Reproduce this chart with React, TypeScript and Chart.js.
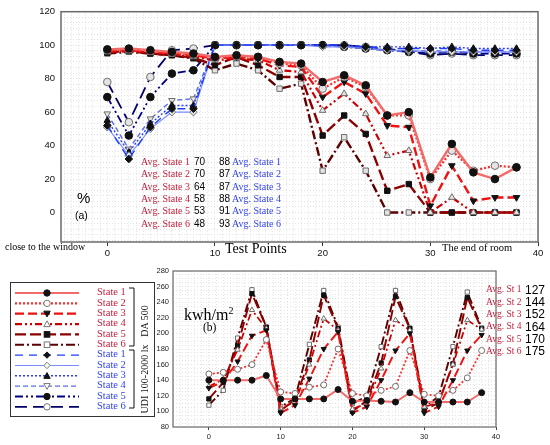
import React, { useEffect, useRef } from "react";
import { Chart, registerables } from "chart.js";

Chart.register(...registerables);

// ---------- DATA ----------
const TEST_POINTS = [0, 2, 4, 6, 8, 10, 12, 14, 16, 18, 20, 22, 24, 26, 28, 30, 32, 34, 36, 38];

// (a) DA 500 (%)
const DA_STATE_1 = [97.5, 98, 97, 96, 95, 93, 94, 93, 90, 89, 78, 82, 76, 58, 60, 21, 41, 24, 20, 27];
const DA_STATE_2 = [97, 97.5, 96.5, 95.5, 94.5, 92.5, 93.5, 93, 89, 88, 74, 81, 75, 58, 58, 20, 37, 25, 28, 27];
const DA_STATE_3 = [96.5, 97, 96, 95, 94, 92, 93, 92, 88, 87, 69, 78, 71, 52, 51, 4, 28, 7, 9, 9];
const DA_STATE_4 = [96, 96.5, 95.5, 94.5, 93, 91, 92, 91, 85, 84, 61, 71, 59, 34, 37, 0, 9, 0, 0, 0];
const DA_STATE_5 = [95.5, 96.5, 95, 94, 92.5, 88, 93, 88, 81, 81, 46, 58, 47, 13, 17, 0, 0, 0, 0, 0];
const DA_STATE_6 = [95, 96, 95, 94, 92, 85, 89, 85, 74, 77, 25, 45, 25, 0, 0, 0, 0, 0, 0, 0];

// (a) UDI 100-2000 lx (%)
const UDI_STATE_1 = [52, 32, 51, 62, 62, 100, 100, 100, 100, 100, 100, 100, 99, 98, 98, 98, 98, 97, 97, 97];
const UDI_STATE_2 = [51, 34, 50, 60, 60, 100, 100, 100, 100, 100, 99, 99, 98, 97, 97, 96, 96, 96, 96, 96];
const UDI_STATE_3 = [55, 36, 53, 64, 64, 100, 100, 100, 100, 100, 100, 100, 99, 99, 99, 98, 99, 98, 98, 98];
const UDI_STATE_4 = [59, 38, 56, 67, 68, 100, 100, 100, 100, 100, 100, 99, 98, 97, 96, 97, 96, 96, 96, 96];
const UDI_STATE_5 = [69, 46, 69, 83, 85, 100, 100, 100, 100, 100, 100, 99, 98, 97, 96, 95, 96, 95, 95, 95];
const UDI_STATE_6 = [78, 54, 81, 97, 98, 100, 100, 100, 100, 100, 100, 100, 99, 98, 96, 94, 95, 94, 94, 94];

// (b) energy kWh/m2
const EN_STATE_1 = [140, 140, 140, 140, 146, 116, 116, 116, 116, 128, 113, 114, 113, 112, 124, 112, 112, 112, 112, 124];
const EN_STATE_2 = [148, 150, 154, 160, 192, 125, 123, 131, 134, 180, 123, 120, 127, 132, 178, 122, 120, 127, 143, 178];
const EN_STATE_3 = [130, 138, 164, 197, 204, 98, 108, 142, 180, 202, 98, 106, 140, 178, 200, 98, 106, 140, 178, 198];
const EN_STATE_4 = [132, 141, 179, 230, 206, 104, 112, 160, 219, 204, 103, 110, 155, 217, 204, 106, 111, 160, 217, 205];
const EN_STATE_5 = [116, 137, 184, 251, 208, 101, 115, 166, 249, 206, 100, 114, 162, 247, 206, 102, 111, 161, 246, 206];
const EN_STATE_6 = [108, 127, 194, 256, 208, 106, 117, 186, 255, 208, 110, 119, 183, 255, 207, 106, 119, 183, 253, 207];

const STATE_LABELS = ["State 1", "State 2", "State 3", "State 4", "State 5", "State 6"];
const AVG_DA = [70, 70, 64, 58, 53, 48];
const AVG_UDI = [88, 87, 87, 88, 91, 93];
const AVG_ENERGY = [127, 144, 152, 164, 170, 175];

const DA_SERIES = [DA_STATE_1, DA_STATE_2, DA_STATE_3, DA_STATE_4, DA_STATE_5, DA_STATE_6];
const UDI_SERIES = [UDI_STATE_1, UDI_STATE_2, UDI_STATE_3, UDI_STATE_4, UDI_STATE_5, UDI_STATE_6];
const EN_SERIES = [EN_STATE_1, EN_STATE_2, EN_STATE_3, EN_STATE_4, EN_STATE_5, EN_STATE_6];

// ---------- STYLES ----------
const SANS = "'Liberation Sans', Arial, sans-serif";
const SERIF = "'Liberation Serif', 'Times New Roman', serif";
const RED_TEXT = "#c41e3a";
const BLUE_TEXT = "#3344ee";
const GRID = "#d9d9d9";

type Style = { color: string; dash: number[]; width: number; marker: string; filled: boolean; rot: number };

const DA_STYLES: Style[] = [
  { color: "#f26b6b", dash: [], width: 2.4, marker: "circle", filled: true, rot: 0 },
  { color: "#ff2a2a", dash: [2, 2], width: 2.2, marker: "circle", filled: false, rot: 0 },
  { color: "#ee1111", dash: [9, 4], width: 2.4, marker: "triangle", filled: true, rot: 180 },
  { color: "#c80000", dash: [7, 3, 2, 3, 2, 3], width: 2.2, marker: "triangle", filled: false, rot: 0 },
  { color: "#8b0000", dash: [11, 4], width: 2.4, marker: "rect", filled: true, rot: 0 },
  { color: "#5c0000", dash: [9, 3, 2, 3], width: 2.4, marker: "rect", filled: false, rot: 0 },
];

const UDI_STYLES: Style[] = [
  { color: "#1f3fff", dash: [8, 6], width: 1.4, marker: "rectRot", filled: true, rot: 0 },
  { color: "#7a8cff", dash: [], width: 1.1, marker: "rectRot", filled: false, rot: 0 },
  { color: "#2a3cff", dash: [2, 2], width: 1.4, marker: "triangle", filled: true, rot: 0 },
  { color: "#5a6ee8", dash: [5, 3], width: 1.4, marker: "triangle", filled: false, rot: 180 },
  { color: "#000080", dash: [8, 3, 2, 3, 2, 3], width: 1.8, marker: "circle", filled: true, rot: 0 },
  { color: "#000066", dash: [12, 6], width: 1.8, marker: "circle", filled: false, rot: 0 },
];

const isMajor = (v: number, step: number) => Math.abs(v / step - Math.round(v / step)) < 1e-6;

function toPoints(values: number[]) {
  return TEST_POINTS.map((x, i) => ({ x, y: values[i] }));
}

function makeDataset(label: string, values: number[], st: Style, radius: number, openFill: string, widthScale = 1) {
  return {
    label,
    data: toPoints(values),
    borderColor: st.color,
    borderWidth: st.width * widthScale,
    borderDash: st.dash,
    pointStyle: st.marker,
    pointRotation: st.rot,
    pointRadius: radius,
    pointBackgroundColor: st.filled ? "#111" : openFill,
    pointBorderColor: st.filled ? "#111" : "#6e6e6e",
    pointBorderWidth: 1,
    tension: 0,
    fill: false,
  };
}

const framePlugin = {
  id: "frame",
  beforeDatasetsDraw(chart: any, _args: any, opts: any) {
    const { ctx, chartArea: a } = chart;
    ctx.save();
    ctx.strokeStyle = opts.color || "#666";
    ctx.lineWidth = opts.width || 1;
    ctx.setLineDash([]);
    ctx.strokeRect(a.left, a.top, a.right - a.left, a.bottom - a.top);
    ctx.restore();
  },
};

function buildTicks(min: number, max: number, stepNum: number, stepDen: number) {
  const t: { value: number }[] = [];
  const kMin = Math.ceil((min * stepDen) / stepNum - 1e-9);
  const kMax = Math.floor((max * stepDen) / stepNum + 1e-9);
  for (let k = kMin; k <= kMax; k++) t.push({ value: (k * stepNum) / stepDen });
  return t;
}

function TopChart() {
  const ref = useRef<HTMLCanvasElement>(null);
  useEffect(() => {
    const xMin = -4.3, xMax = 40, yMin = -17.6, yMax = 120;
    const datasets: any[] = [];
    DA_SERIES.forEach((v, i) => datasets.push(makeDataset("DA " + STATE_LABELS[i], v, DA_STYLES[i], 3.8, "#e4e4e4")));
    UDI_SERIES.forEach((v, i) => datasets.push(makeDataset("UDI " + STATE_LABELS[i], v, UDI_STYLES[i], 3.8, "#e4e4e4")));
    const chart = new Chart(ref.current as HTMLCanvasElement, {
      type: "line",
      data: { datasets },
      plugins: [framePlugin],
      options: {
        animation: false,
        responsive: false,
        layout: { padding: { left: 0, right: 12, top: 8, bottom: 0 } },
        plugins: { legend: { display: false }, tooltip: { enabled: false }, frame: { color: "#6a6a6a", width: 1.5 } } as any,
        scales: {
          x: {
            type: "linear",
            min: xMin,
            max: xMax,
            afterBuildTicks: (axis: any) => { axis.ticks = buildTicks(xMin, xMax, 2, 3); },
            afterFit: (axis: any) => { axis.height = 20; },
            ticks: {
              autoSkip: false, maxRotation: 0, padding: 2, color: "#111",
              font: { family: SANS, size: 9.5 },
              callback: (v: any) => (isMajor(Number(v), 10) ? String(Math.round(Number(v))) : ""),
            },
            grid: {
              color: GRID, lineWidth: 0.8, tickLength: 4, tickWidth: 1,
              tickColor: (c: any) => (c.tick && isMajor(c.tick.value, 10) ? "#333" : "rgba(0,0,0,0)"),
            },
            border: { display: false, dash: [1, 2] },
          },
          y: {
            type: "linear",
            min: yMin,
            max: yMax,
            afterBuildTicks: (axis: any) => { axis.ticks = buildTicks(yMin, yMax, 10, 3); },
            afterFit: (axis: any) => { axis.width = 61; },
            ticks: {
              autoSkip: false, padding: 6, color: "#111",
              font: { family: SANS, size: 9.5 },
              callback: (v: any) => (isMajor(Number(v), 20) ? String(Math.round(Number(v))) : ""),
            },
            grid: { color: GRID, lineWidth: 0.8, drawTicks: false },
            border: { display: false, dash: [1, 2] },
          },
        },
      } as any,
    });
    return () => chart.destroy();
  }, []);
  return <canvas ref={ref} width={550} height={262} style={{ position: "absolute", left: 0, top: 0, width: 550, height: 262 }} />;
}

function BottomChart() {
  const ref = useRef<HTMLCanvasElement>(null);
  useEffect(() => {
    const xMin = -5, xMax = 40, yMin = 80, yMax = 280;
    const datasets: any[] = EN_SERIES.map((v, i) =>
      makeDataset("Energy " + STATE_LABELS[i], v, DA_STYLES[i], 3, "#ffffff", 0.8)
    );
    const chart = new Chart(ref.current as HTMLCanvasElement, {
      type: "line",
      data: { datasets },
      plugins: [framePlugin],
      options: {
        animation: false,
        responsive: false,
        layout: { padding: { left: 0, right: 54, top: 9, bottom: 0 } },
        plugins: { legend: { display: false }, tooltip: { enabled: false }, frame: { color: "#6a6a6a", width: 1.2 } } as any,
        scales: {
          x: {
            type: "linear",
            min: xMin,
            max: xMax,
            afterBuildTicks: (axis: any) => { axis.ticks = buildTicks(xMin, xMax, 1, 1); },
            afterFit: (axis: any) => { axis.height = 18; },
            ticks: {
              autoSkip: false, maxRotation: 0, padding: 2, color: "#222",
              font: { family: SANS, size: 7.5 },
              callback: (v: any) => (isMajor(Number(v), 10) ? String(Math.round(Number(v))) : ""),
            },
            grid: {
              color: GRID, lineWidth: 0.7, tickLength: 3, tickWidth: 1,
              tickColor: (c: any) => (c.tick && isMajor(c.tick.value, 10) ? "#444" : "rgba(0,0,0,0)"),
            },
            border: { display: false, dash: [1, 2] },
          },
          y: {
            type: "linear",
            min: yMin,
            max: yMax,
            afterBuildTicks: (axis: any) => { axis.ticks = buildTicks(yMin, yMax, 5, 1); },
            afterFit: (axis: any) => { axis.width = 33; },
            ticks: {
              autoSkip: false, padding: 4, color: "#222",
              font: { family: SANS, size: 7.5 },
              callback: (v: any) => (isMajor(Number(v), 20) ? String(Math.round(Number(v))) : ""),
            },
            grid: { color: GRID, lineWidth: 0.7, drawTicks: false },
            border: { display: false, dash: [1, 2] },
          },
        },
      } as any,
    });
    return () => chart.destroy();
  }, []);
  return <canvas ref={ref} width={410} height={183} style={{ position: "absolute", left: 140, top: 262, width: 410, height: 183 }} />;
}

function Txt(props: { x: number; y: number; size: number; family: string; color?: string; children: any; style?: any }) {
  const { x, y, size, family, color, children, style } = props;
  return (
    <div
      style={{
        position: "absolute", left: x, top: y - size * 0.6, fontSize: size, fontFamily: family,
        color: color || "#000", lineHeight: `${size * 1.2}px`, whiteSpace: "nowrap", ...style,
      }}
    >
      {children}
    </div>
  );
}

function LegendMarker({ st, cx, cy }: { st: Style; cx: number; cy: number }) {
  const fill = st.filled ? "#111" : "#fff";
  const stroke = st.filled ? "#111" : "#777";
  const r = 3.2;
  if (st.marker === "circle") return <circle cx={cx} cy={cy} r={r} fill={fill} stroke={stroke} strokeWidth={1} />;
  if (st.marker === "rect") return <rect x={cx - 2.8} y={cy - 2.8} width={5.6} height={5.6} fill={fill} stroke={stroke} strokeWidth={1} />;
  if (st.marker === "rectRot")
    return <polygon points={`${cx},${cy - r} ${cx + r},${cy} ${cx},${cy + r} ${cx - r},${cy}`} fill={fill} stroke={stroke} strokeWidth={1} />;
  const up = st.rot === 0;
  const pts = up
    ? `${cx},${cy - r} ${cx + r},${cy + r * 0.8} ${cx - r},${cy + r * 0.8}`
    : `${cx},${cy + r} ${cx + r},${cy - r * 0.8} ${cx - r},${cy - r * 0.8}`;
  return <polygon points={pts} fill={fill} stroke={stroke} strokeWidth={1} />;
}

function Legend() {
  const rows = [...DA_STYLES.map((s, i) => ({ st: s, label: STATE_LABELS[i], color: RED_TEXT })),
    ...UDI_STYLES.map((s, i) => ({ st: s, label: STATE_LABELS[i], color: BLUE_TEXT }))];
  const rowY = (i: number) => 11 + i * 10.35;
  return (
    <div style={{ position: "absolute", left: 10, top: 282, width: 145, height: 135, border: "1.5px solid #333", boxSizing: "border-box", background: "#fff" }}>
      <svg width={145} height={135} style={{ position: "absolute", left: -1.5, top: -1.5 }}>
        {rows.map((r, i) => (
          <g key={i}>
            <line x1={5} x2={69} y1={rowY(i)} y2={rowY(i)} stroke={r.st.color} strokeWidth={Math.min(r.st.width, 2.2)} strokeDasharray={r.st.dash.length ? r.st.dash.join(" ") : undefined} />
            <LegendMarker st={r.st} cx={37} cy={rowY(i)} />
          </g>
        ))}
        <polyline points="119,6 124,6 124,64 119,64" fill="none" stroke="#111" strokeWidth={1} />
        <polyline points="119,68 124,68 124,126 119,126" fill="none" stroke="#111" strokeWidth={1} />
      </svg>
      {rows.map((r, i) => (
        <Txt key={i} x={86} y={rowY(i) - 1.5} size={10.5} family={SERIF} color={r.color}>{r.label}</Txt>
      ))}
      <div style={{ position: "absolute", left: 134 - 40, top: 38 - 6, width: 80, textAlign: "center", fontFamily: SERIF, fontSize: 10, lineHeight: "12px", transform: "rotate(-90deg)", color: "#111" }}>DA 500</div>
      <div style={{ position: "absolute", left: 134 - 40, top: 96 - 6, width: 80, textAlign: "center", fontFamily: SERIF, fontSize: 10, lineHeight: "12px", transform: "rotate(-90deg)", color: "#111" }}>UDI 100-2000 lx</div>
    </div>
  );
}

export default function App() {
  return (
    <div style={{ position: "absolute", left: 0, top: 0, width: 550, height: 445, background: "#fff", overflow: "hidden" }}>
      <TopChart />
      <BottomChart />
      {/* top chart annotations */}
      <Txt x={77} y={198} size={15} family={SANS}>%</Txt>
      <Txt x={75} y={215} size={10.5} family={SANS}>(a)</Txt>
      {STATE_LABELS.map((s, i) => (
        <React.Fragment key={i}>
          <Txt x={141} y={162 + 12.3 * i} size={10} family={SERIF} color={RED_TEXT}>{"Avg. " + s}</Txt>
          <Txt x={194} y={162 + 12.3 * i} size={10} family={SANS}>{AVG_DA[i]}</Txt>
          <Txt x={219} y={162 + 12.3 * i} size={10} family={SANS}>{AVG_UDI[i]}</Txt>
          <Txt x={232} y={162 + 12.3 * i} size={10} family={SERIF} color={BLUE_TEXT}>{"Avg. " + s}</Txt>
        </React.Fragment>
      ))}
      <Txt x={5} y={247} size={10} family={SERIF}>close to the window</Txt>
      <Txt x={225} y={249} size={14} family={SERIF}>Test Points</Txt>
      <Txt x={442} y={248} size={10.5} family={SERIF}>The end of room</Txt>
      {/* bottom chart annotations */}
      <Txt x={184} y={311} size={16} family={SERIF}>kwh/m<sup style={{ fontSize: 10 }}>2</sup></Txt>
      <Txt x={203} y={328} size={11.5} family={SERIF}>(b)</Txt>
      {STATE_LABELS.map((s, i) => (
        <React.Fragment key={"e" + i}>
          <Txt x={486} y={290 + 12.3 * i} size={9.5} family={SERIF} color={RED_TEXT}>{"Avg. St " + (i + 1)}</Txt>
          <Txt x={525} y={290 + 12.3 * i} size={12} family={SANS}>{AVG_ENERGY[i]}</Txt>
        </React.Fragment>
      ))}
      <Legend />
    </div>
  );
}
